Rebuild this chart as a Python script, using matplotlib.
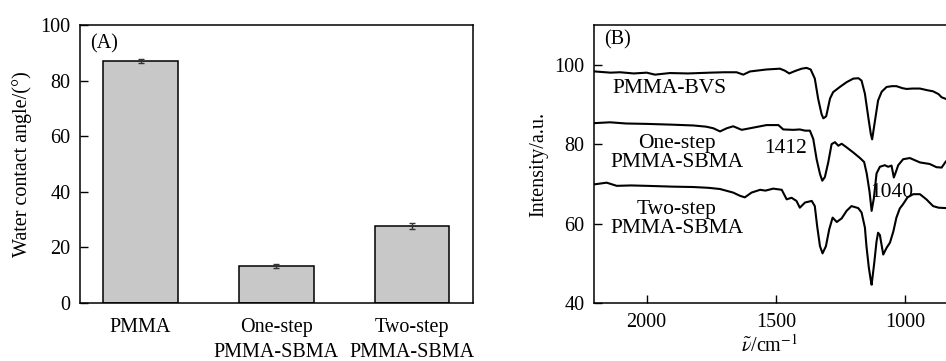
import numpy as np
import matplotlib
matplotlib.use("Agg")
import matplotlib.pyplot as plt

plt.rcParams['font.family'] = ['Liberation Serif', 'DejaVu Serif']
plt.rcParams['mathtext.fontset'] = 'stix'
plt.rcParams['font.size'] = 14.5

# ---- panel A: water contact angle ----
samples = ['PMMA', 'One-step\nPMMA-SBMA', 'Two-step\nPMMA-SBMA']
angle = [87.0, 13.3, 27.8]
angle_err = [0.8, 0.7, 1.1]

# ---- panel B: FTIR spectra (wavenumber, intensity) ----
bvs_wn = [2200, 2140, 2103, 2050, 2000, 1968, 1910, 1840, 1755, 1700, 1652, 1626, 1600,
          1536, 1484, 1465, 1448, 1426, 1400, 1381, 1365, 1349, 1336, 1323, 1316, 1305,
          1290, 1278, 1252, 1226, 1200, 1180, 1168, 1155, 1142, 1132, 1127, 1116, 1104,
          1090, 1071, 1050, 1033, 1010, 994, 970, 942, 915, 891, 870, 858, 842]
bvs_int = [98.3, 98.0, 98.1, 97.8, 98.0, 97.5, 97.9, 97.8, 98.0, 98.1, 98.1, 97.5, 98.3,
           98.8, 99.0, 98.5, 97.8, 98.4, 99.0, 99.2, 98.8, 96.5, 91.4, 87.6, 86.5, 87.0,
           91.5, 93.1, 94.4, 95.6, 96.5, 96.6, 96.0, 92.7, 86.8, 82.5, 81.2, 85.9, 91.0,
           93.2, 94.4, 94.6, 94.6, 94.1, 93.9, 94.0, 94.0, 93.6, 93.3, 92.6, 91.8, 91.4]

one_wn = [2200, 2142, 2080, 2000, 1900, 1819, 1770, 1742, 1716, 1690, 1665, 1632, 1600,
          1536, 1490, 1471, 1432, 1407, 1387, 1368, 1355, 1342, 1329, 1320, 1310, 1297,
          1284, 1271, 1258, 1245, 1226, 1200, 1174, 1158, 1148, 1137, 1129, 1120, 1110,
          1097, 1078, 1065, 1052, 1043, 1035, 1026, 1007, 981, 942, 904, 878, 858, 842]
one_int = [85.3, 85.5, 85.2, 85.1, 84.9, 84.7, 84.4, 84.0, 83.2, 84.0, 84.5, 83.6, 84.0,
           84.8, 84.8, 83.7, 83.6, 83.7, 83.4, 83.4, 81.3, 76.2, 72.5, 70.8, 71.7, 75.4,
           80.0, 80.5, 79.6, 80.1, 79.2, 77.9, 76.5, 75.5, 72.6, 68.0, 63.2, 66.5, 72.6,
           74.3, 74.7, 74.3, 74.6, 71.6, 73.0, 74.7, 76.2, 76.5, 75.4, 75.0, 74.2, 74.1, 75.6]

two_wn = [2200, 2155, 2116, 2060, 2000, 1900, 1819, 1760, 1716, 1665, 1639, 1620, 1594,
          1561, 1540, 1510, 1477, 1458, 1439, 1420, 1407, 1387, 1361, 1349, 1340, 1329,
          1319, 1306, 1293, 1280, 1264, 1245, 1226, 1207, 1181, 1168, 1155, 1149, 1140,
          1133, 1129, 1119, 1110, 1104, 1097, 1084, 1071, 1058, 1045, 1033, 1020, 1007,
          990, 968, 942, 917, 891, 870, 842]
two_int = [69.9, 70.3, 69.5, 69.6, 69.5, 69.3, 69.2, 69.0, 68.7, 67.8, 67.0, 66.6, 67.8,
           68.5, 68.3, 68.8, 68.5, 66.1, 66.5, 65.7, 64.0, 65.3, 65.7, 64.4, 59.4, 54.3,
           52.5, 54.3, 58.6, 61.5, 60.4, 61.3, 63.2, 64.4, 63.9, 62.8, 59.0, 54.3, 49.0,
           46.0, 44.6, 50.0, 55.5, 57.7, 57.1, 52.2, 53.9, 55.2, 58.0, 61.5, 63.8, 64.9,
           66.6, 67.4, 67.4, 66.1, 64.4, 64.0, 63.9]

fig = plt.figure(figsize=(9.46, 3.61), dpi=100)

# ---------- (A) ----------
axA = fig.add_axes([80 / 946, 1 - 303 / 361, 393 / 946, 278 / 361])
x = np.arange(len(samples))
axA.bar(x, angle, width=0.55, color='#c8c8c8', edgecolor='black', linewidth=1.1,
        yerr=angle_err, capsize=2.5, error_kw=dict(elinewidth=1.0, capthick=1.0, ecolor='#333333'))
axA.set_xlim(-0.446, 2.45)
axA.set_ylim(0, 100)
axA.set_yticks([0, 20, 40, 60, 80, 100])
axA.set_xticks(x)
axA.set_xticklabels(samples, linespacing=1.4)
axA.tick_params(axis='x', length=0, pad=11)
axA.tick_params(axis='y', direction='in', length=6, width=1.0, pad=7)
axA.set_ylabel('Water contact angle/(°)', labelpad=6)
axA.text(0.025, 0.965, '(A)', transform=axA.transAxes, va='top', ha='left')
for s in axA.spines.values():
    s.set_linewidth(1.1)

# ---------- (B) ----------
axB = fig.add_axes([594 / 946, 1 - 303 / 361, 1 - 594 / 946, 278 / 361])
for wn, inten in [(bvs_wn, bvs_int), (one_wn, one_int), (two_wn, two_int)]:
    axB.plot(wn, inten, color='black', linewidth=1.5)
axB.set_xlim(2204, 841)
axB.set_ylim(40, 110)
axB.set_yticks([40, 60, 80, 100])
axB.set_xticks([2000, 1500, 1000])
axB.tick_params(direction='in', length=6, width=1.0, pad=7)
axB.spines['right'].set_visible(False)
for s in axB.spines.values():
    s.set_linewidth(1.1)
axB.set_ylabel('Intensity/a.u.', labelpad=4)
axB.set_xlabel(r'$\tilde{\nu}$/cm$^{-1}$', labelpad=2)

fs = 15.5
axB.text(2163, 108.6, '(B)', va='top', ha='left')
axB.text(1910, 94.0, 'PMMA-BVS', ha='center', va='center', fontsize=fs)
axB.text(1883, 77.7, 'One-step\nPMMA-SBMA', ha='center', va='center', linespacing=0.98, fontsize=fs)
axB.text(1883, 61.2, 'Two-step\nPMMA-SBMA', ha='center', va='center', linespacing=0.98, fontsize=fs)
axB.text(1461, 78.8, '1412', ha='center', va='center', fontsize=fs)
axB.text(1051, 67.9, '1040', ha='center', va='center', fontsize=fs)

fig.savefig('out.png', dpi=100)
